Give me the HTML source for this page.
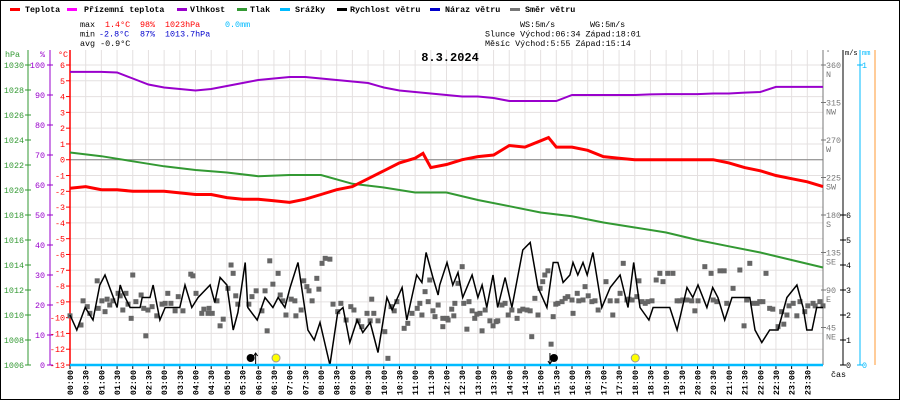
<!DOCTYPE html>
<html><head><meta charset="utf-8"><style>
html,body{margin:0;padding:0;background:#fff}
svg{display:block}
text{font-family:"Liberation Mono",monospace}
</style></head><body>
<svg id="chart" width="900" height="400" xmlns="http://www.w3.org/2000/svg"></svg>
<script>
// ---- data ----
const tempTimes=[0,0.5,1,1.5,2,2.5,3,3.5,4,4.5,5,5.5,6,6.5,7,7.5,8,8.5,9,9.5,10,10.5,11,11.25,11.5,12,12.5,13,13.5,14,14.5,15,15.25,15.5,16,16.5,17,17.5,18,18.5,19,19.5,20,20.5,21,21.5,22,22.5,23,23.5,24];
const tempValues=[-1.8,-1.7,-1.9,-1.9,-2.0,-2.0,-2.0,-2.1,-2.2,-2.2,-2.4,-2.5,-2.5,-2.6,-2.7,-2.5,-2.2,-1.9,-1.7,-1.2,-0.7,-0.2,0.1,0.4,-0.5,-0.3,0.0,0.2,0.3,0.9,0.8,1.2,1.4,0.8,0.8,0.6,0.2,0.1,0.0,0.0,0.0,0.0,0.0,0.0,-0.2,-0.5,-0.7,-1.0,-1.2,-1.4,-1.7];
const humTimes=[0,0.5,1,1.5,2,2.5,3,3.5,4,4.5,5,5.5,6,6.5,7,7.5,8,8.5,9,9.5,10,10.5,11,11.5,12,12.5,13,13.5,14,14.5,15,15.5,16,16.5,17,17.5,18,18.5,19,19.5,20,20.5,21,21.5,22,22.5,23,23.5,24];
const humValues=[97.7,97.7,97.7,97.5,95.5,93.5,92.5,92,91.5,92,93,94,95,95.5,96,96,95.5,95,94.5,94,92.5,91.5,91,90.5,90,89.5,89.5,89,88,88,88,88,90,90,90,90,90,90.2,90.3,90.3,90.3,90.5,90.5,90.8,91,92.7,92.7,92.7,92.7];
const presTimes=[0,1,2,3,4,5,6,7,8,9,10,11,12,13,14,15,16,17,18,19,20,21,22,23,24];
const presValues=[1023.0,1022.7,1022.3,1021.9,1021.6,1021.4,1021.1,1021.2,1021.2,1020.5,1020.2,1019.8,1019.8,1019.2,1018.7,1018.2,1017.9,1017.4,1017.0,1016.6,1016.0,1015.5,1015.0,1014.4,1013.8];
const windMinutes=[0,13,29,44,57,67,90,96,101,115,134,138,153,159,172,182,210,220,233,245,268,277,287,300,312,321,335,340,358,373,388,398,411,421,436,455,467,478,497,512,522,535,549,560,574,589,606,616,635,644,663,673,681,694,704,707,721,732,742,751,769,780,788,797,809,818,832,845,866,880,895,912,924,933,943,956,962,971,981,989,1000,1017,1033,1052,1067,1078,1090,1107,1115,1147,1161,1180,1191,1201,1218,1229,1239,1252,1266,1300,1310,1323,1338,1354,1371,1390,1402,1409,1419,1428,1440];
const windSpeeds=[2.0,1.4,2.3,1.8,3.2,3.6,2.3,3.2,2.9,2.3,2.3,2.7,2.7,3.2,1.8,2.3,2.3,3.2,2.3,2.7,3.2,2.5,3.5,3.2,1.4,2.1,4.1,2.3,1.8,2.7,2.3,2.7,2.3,3.1,4.1,1.4,1.0,1.7,0,2.1,2.3,0.9,1.8,1.3,1.7,0.5,2.7,2.2,3.1,1.8,3.6,3.3,4.5,3.5,2.8,3.2,4.1,3.2,3.7,2.7,3.6,2.7,3.2,2.3,3.6,2.3,3.5,2.3,4.6,4.9,3.1,2.3,4.1,4.1,3.3,3.6,4.1,3.6,4.1,3.6,4.5,2.3,3.1,3.6,2.3,4.1,2.3,1.8,2.3,2.3,1.4,3.1,2.7,3.2,2.3,3.1,2.7,1.8,2.7,2.7,1.4,0.9,1.4,1.4,2.7,3.2,2.3,1.4,1.4,2.3,2.3];
const dirMinutes=[0,21,25,33,38,52,54,61,67,71,76,82,92,96,101,107,111,117,120,126,136,141,145,149,157,166,176,182,187,193,201,207,216,231,235,241,252,256,264,266,272,281,287,293,302,308,312,317,321,342,348,356,367,373,377,382,388,398,402,407,413,423,430,432,442,447,453,457,463,472,476,482,488,497,503,512,518,528,537,543,551,558,568,574,577,581,589,602,608,614,620,625,639,646,654,664,669,673,679,685,688,694,698,704,713,713,721,723,730,734,736,742,750,753,759,763,769,774,778,784,788,794,803,809,815,818,826,832,838,845,855,860,866,874,880,883,889,895,899,904,908,914,920,924,929,933,941,947,952,960,962,970,973,981,985,991,998,1004,1010,1025,1033,1038,1046,1052,1058,1065,1069,1075,1084,1088,1094,1100,1105,1113,1121,1128,1134,1143,1153,1161,1166,1172,1180,1189,1195,1201,1214,1226,1230,1237,1243,1251,1256,1268,1281,1289,1294,1300,1306,1314,1319,1325,1331,1338,1344,1354,1361,1365,1371,1375,1383,1390,1396,1405,1411,1421,1425,1434,1440];
const dirDegrees=[59,48,77,70,62,101,68,77,64,79,72,77,86,83,66,86,73,56,108,76,84,68,35,66,70,59,73,74,86,74,65,82,65,109,107,86,62,67,62,68,62,77,47,55,92,120,110,83,73,73,82,89,65,89,41,125,97,110,84,77,60,79,77,59,66,101,94,89,77,104,91,122,128,127,73,64,74,54,70,66,53,46,62,53,79,62,53,40,8,70,65,76,44,50,62,68,74,60,88,76,102,65,58,72,56,46,56,54,67,59,74,98,118,74,43,76,65,56,61,62,41,66,53,47,52,53,72,74,60,66,56,65,67,66,65,34,80,60,92,100,108,113,25,58,73,74,76,80,82,78,62,86,77,78,94,83,76,77,66,100,77,60,77,86,122,78,79,78,82,101,76,74,76,77,102,110,100,110,110,77,77,78,78,77,65,77,118,110,78,76,113,113,74,92,114,47,78,122,74,74,76,76,110,68,67,46,64,49,60,71,74,59,76,64,71,74,71,76,71];
const timeLabels=["00:00","00:30","01:00","01:30","02:00","02:30","03:00","03:30","04:00","04:30","05:00","05:30","06:00","06:30","07:00","07:30","08:00","08:30","09:00","09:30","10:00","10:30","11:00","11:30","12:00","12:30","13:00","13:30","14:00","14:30","15:00","15:30","16:00","16:30","17:00","17:30","18:00","18:30","19:00","19:30","20:00","20:30","21:00","21:30","22:00","22:30","23:00","23:30"];
const presTicks=[1030,1028,1026,1024,1022,1020,1018,1016,1014,1012,1010,1008,1006];
const humTicks=[100,90,80,70,60,50,40,30,20,10,0];
const tempTicks=[6,5,4,3,2,1,0,-1,-2,-3,-4,-5,-6,-7,-8,-9,-10,-11,-12,-13];
const dirTicks=[360,315,270,225,180,135,90,45];
const dirNames=["N","NW","W","SW","S","SE","E","NE"];
const speedTicks=[0,1,2,3,4,5,6];
const astroTimes=[5+55/60,6+34/60,15+14/60,18+1/60];

// ---- axes ----
const X0=70,X1=823,Y0=65,Y1=365;
const xH=h=>X0+h/24*(X1-X0);
const xM=m=>xH(m/60);
const yT=t=>Y0+(6-t)/19*(Y1-Y0);
const yP=p=>Y0+(1030-p)/24*(Y1-Y0);
const yH=v=>Y0+(100-v)/100*(Y1-Y0);
const yD=d=>Y0+(360-d)/360*(Y1-Y0);
const yS=s=>Y1-s/12*(Y1-Y0);
const FS=8.4;

const svg=document.getElementById('chart');
const NS='http://www.w3.org/2000/svg';
function el(tag,attrs,parent){const e=document.createElementNS(NS,tag);for(const k in attrs)e.setAttribute(k,attrs[k]);(parent||svg).appendChild(e);return e;}
function txt(x,y,s,fill,size,anchor,weight){const t=el('text',{x:x,y:y,fill:fill,'font-size':size||FS,'text-anchor':anchor||'start'});if(weight)t.setAttribute('font-weight',weight);t.textContent=s;return t;}

el('rect',{x:0.5,y:0.5,width:899,height:399,fill:'#fff',stroke:'#000'});

// grid
const grid=el('g',{});


for(let i=0;i<=48;i++){const x=xH(i/2);el('line',{x1:x,y1:Y0-15,x2:x,y2:Y1,stroke:'#e4e0e0','stroke-width':1},grid);}
tempTicks.forEach(t=>{el('line',{x1:X0,y1:yT(t),x2:X1,y2:yT(t),stroke:'#e4e0e0','stroke-width':1},grid);});
el('line',{x1:X0,y1:yT(0),x2:X1,y2:yT(0),stroke:'#808080','stroke-width':1},grid);

// legend
const legend=[["Teplota","#f00",10,25],["Přízemní teplota","#f0f",67,84],["Vlhkost","#90c",177,190],["Tlak","#393",237,250],["Srážky","#0bf",280,295],["Rychlost větru","#000",337,350],["Náraz větru","#00c",430,445],["Směr větru","#777",510,525]];
legend.forEach(l=>{const g=el('g',{});


el('rect',{x:l[2],y:8,width:10,height:3,fill:l[1]},g);const t=txt(l[3],12,l[0],'#000',FS,'start','bold');g.appendChild(t);});

// stats
txt(80,27,"max","#000");txt(105,27,"1.4°C","#f00");txt(140,27,"98%","#f00");txt(165,27,"1023hPa","#f00");txt(225,27,"0.0mm","#0bf");
txt(80,36.5,"min","#000");txt(99,36.5,"-2.8°C","#00c");txt(140,36.5,"87%","#00c");txt(165,36.5,"1013.7hPa","#00c");
txt(80,46,"avg -0.9°C","#000");
txt(520,27,"WS:5m/s","#000");txt(590,27,"WG:5m/s","#000");
txt(485,36.5,"Slunce Východ:06:34  Západ:18:01","#000");
txt(485,46,"Měsíc  Východ:5:55   Západ:15:14","#000");
const title=txt(450,61,"8.3.2024","#000",12,'middle','bold');



// left axes
el('line',{x1:28,y1:50,x2:28,y2:Y1,stroke:'#393'});el('line',{x1:50,y1:50,x2:50,y2:Y1,stroke:'#90c'});el('line',{x1:70,y1:50,x2:70,y2:Y1,stroke:'#f00','stroke-width':1.5});
txt(5,57,"hPa","#393");txt(40,57,"%","#90c");txt(58,57,"°C","#f00");
presTicks.forEach(p=>{el('line',{x1:25,y1:yP(p),x2:31,y2:yP(p),stroke:'#393'});txt(24,yP(p)+3,String(p),'#393',FS,'end');});
humTicks.forEach(h=>{el('line',{x1:47,y1:yH(h),x2:53,y2:yH(h),stroke:'#90c'});txt(45,yH(h)+3,String(h),'#90c',FS,'end');});
tempTicks.forEach(t=>{el('line',{x1:66,y1:yT(t),x2:70,y2:yT(t),stroke:'#f00'});txt(65,yT(t)+3,String(t),'#f00',FS,'end');});

// right axes
el('line',{x1:823,y1:50,x2:823,y2:Y1,stroke:'#777'});el('line',{x1:843,y1:50,x2:843,y2:Y1,stroke:'#000'});el('line',{x1:860,y1:50,x2:860,y2:Y1,stroke:'#0bf'});el('line',{x1:875,y1:50,x2:875,y2:Y1,stroke:'#f93'});
txt(826,55,"°","#777",7);txt(845,55,"m/s","#000",7);txt(862,55,"mm","#0bf",7);
dirTicks.forEach((d,i)=>{el('line',{x1:821,y1:yD(d),x2:826,y2:yD(d),stroke:'#777'});txt(826,yD(d)+3,String(d),'#777');txt(826,yD(d)+12,dirNames[i],'#777');});
speedTicks.forEach(s=>{el('line',{x1:840,y1:yS(s),x2:846,y2:yS(s),stroke:'#000'});txt(846,yS(s)+3,String(s),'#000');});
el('line',{x1:857,y1:Y0,x2:863,y2:Y0,stroke:'#0bf'});txt(862,Y0+3,"1","#0bf");
el('line',{x1:857,y1:Y1,x2:863,y2:Y1,stroke:'#0bf'});txt(862,Y1+3,"0","#0bf");

// time labels
timeLabels.forEach((l,i)=>{const x=xH(i/2);el('line',{x1:x,y1:Y1,x2:x,y2:Y1+4,stroke:'#000'});const t=txt(0,0,l,'#000',FS,'end','bold');t.setAttribute('transform',`translate(${x+3},370) rotate(-90)`);});
txt(831,377,"čas","#000");

// series helper
function path(xs,ys,fx,fy){return xs.map((v,i)=>(i?'L':'M')+fx(v).toFixed(1)+','+fy(ys[i]).toFixed(1)).join(' ');}

// wind direction
const dg=el('g',{fill:'#666'});


dirMinutes.forEach((m,i)=>{el('rect',{x:xM(m)-2.5,y:yD(dirDegrees[i])-2.5,width:5,height:5},dg);});

// wind speed
const ws=el('path',{d:path(windMinutes,windSpeeds,xM,yS),fill:'none',stroke:'#000','stroke-width':1.5});



// pressure
const pl=el('path',{d:path(presTimes,presValues,xH,yP),fill:'none',stroke:'#393','stroke-width':2});



// humidity
const hl=el('path',{d:path(humTimes,humValues,xH,yH),fill:'none',stroke:'#90c','stroke-width':2});



// temperature
const tl=el('path',{d:path(tempTimes,tempValues,xH,yT),fill:'none',stroke:'#f00','stroke-width':3});



// precipitation
const pr=el('line',{x1:X0,y1:Y1,x2:X1,y2:Y1,stroke:'#0bf','stroke-width':2.5});



// astro markers
function arrow(x,up){el('line',{x1:x,y1:353,x2:x,y2:364,stroke:'#000'});const y=up?353:364,d=up?3:-3;el('path',{d:`M${x-2},${y+d} L${x},${y} L${x+2},${y+d}`,fill:'none',stroke:'#000'});}
const mr=xH(astroTimes[0]);el('circle',{cx:mr-5,cy:358,r:4,fill:'#000'});arrow(mr,true);
const sr=el('circle',{cx:xH(astroTimes[1]),cy:358,r:4,fill:'#ff0',stroke:'#999'});


const ms=xH(astroTimes[2]);el('circle',{cx:ms+6,cy:358,r:4,fill:'#000'});arrow(ms+2,false);
const ss=el('circle',{cx:xH(astroTimes[3]),cy:358,r:4,fill:'#ff0',stroke:'#999'});


</script>
</body></html>
